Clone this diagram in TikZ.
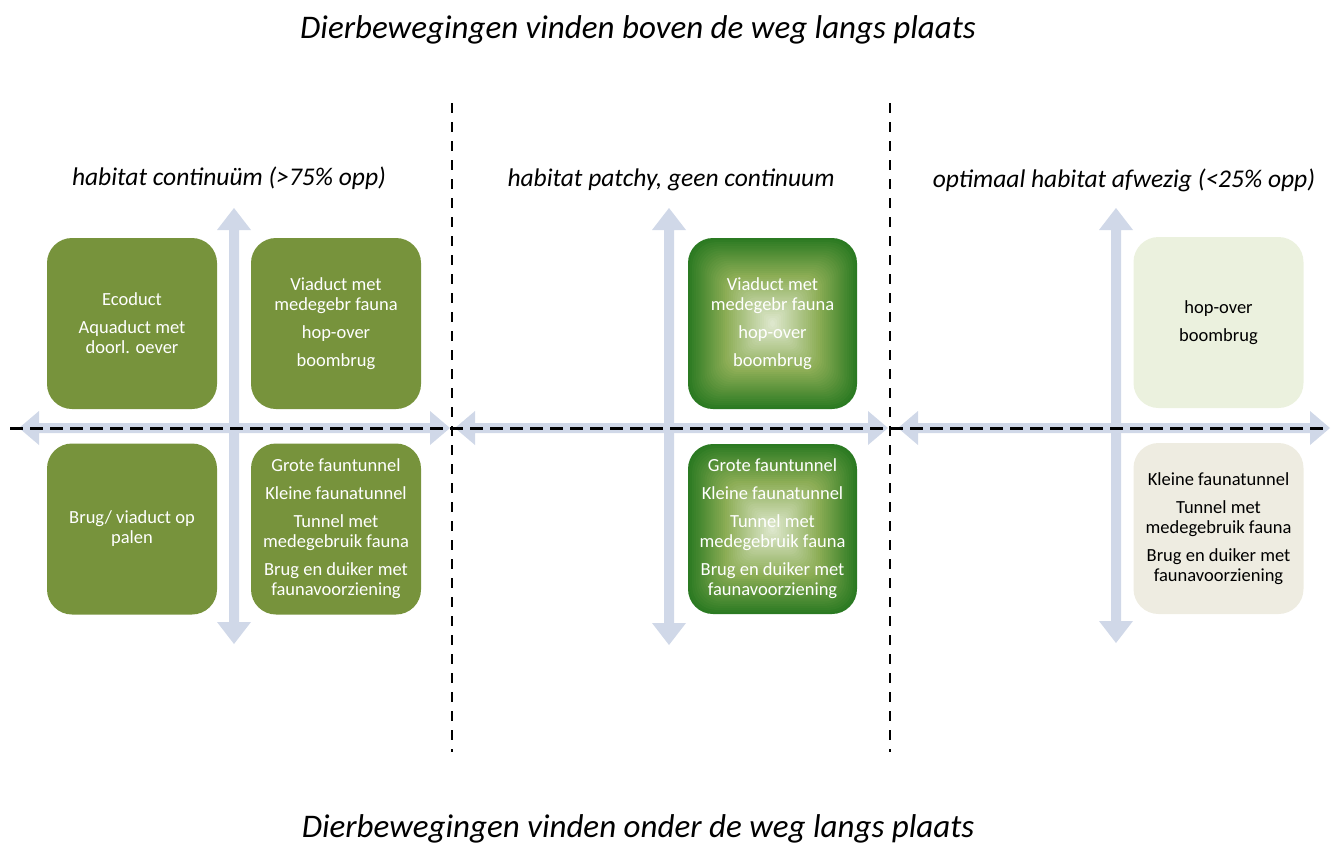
\documentclass[tikz,border=0pt]{standalone}
\usepackage{fontspec}
\setmainfont{Carlito}
\definecolor{olivegreen}{HTML}{77933C}
\definecolor{arrowblue}{HTML}{D0D8E8}
\definecolor{paleA}{HTML}{EBF1DE}
\definecolor{paleB}{HTML}{EEECE1}
\definecolor{rimgreen}{HTML}{2B7A22}
\definecolor{midgreen}{HTML}{8CAD55}
\definecolor{coregreen}{HTML}{DDE7CC}
\newcommand\myharrow[3]{% y, xleft tip, xright tip
  \fill[arrowblue] (#2,#1) -- (#2+20,#1-17) -- (#2+20,#1-5) -- (#3-20,#1-5) -- (#3-20,#1-17) -- (#3,#1)
    -- (#3-20,#1+17) -- (#3-20,#1+5) -- (#2+20,#1+5) -- (#2+20,#1+17) -- cycle;}
\newcommand\myvarrow[3]{% x, ytop tip, ybottom tip
  \fill[arrowblue] (#1,#2) -- (#1+17,#2+22) -- (#1+5,#2+22) -- (#1+5,#3-22) -- (#1+17,#3-22) -- (#1,#3)
    -- (#1-17,#3-22) -- (#1-5,#3-22) -- (#1-5,#2+22) -- (#1-17,#2+22) -- cycle;}
\newcommand\mygradbox[4]{% x1,y1,x2,y2
  \foreach \i in {0,...,40}{
    \pgfmathsetmacro\d{\i*2.05}
    \pgfmathsetmacro\rr{max(25-\d*0.3,3)}
    \ifnum\i<18
      \pgfmathtruncatemacro\p{\i*100/18}
      \colorlet{gcol}{midgreen!\p!rimgreen}
    \else
      \pgfmathtruncatemacro\p{(\i-18)*100/22}
      \colorlet{gcol}{coregreen!\p!midgreen}
    \fi
    \fill[gcol, rounded corners=\rr] (#1+\d,#2+\d) rectangle (#3-\d,#4-\d);
  }}
\tikzset{
  box/.style={rectangle, rounded corners=25pt, minimum width=170pt, minimum height=171pt,
    inner sep=0pt, align=center, font=\fontsize{18.5}{20}\selectfont},
  greenbox/.style={box, fill=olivegreen, text=white},
  gradbox/.style={box, text=white},
  palebox/.style={box, text=black},
  maintitle/.style={font=\fontsize{33}{38}\selectfont\itshape},
  subtitle/.style={font=\fontsize{25.5}{30}\selectfont\itshape},
  hdash/.style={line width=3pt, dash pattern=on 13pt off 7pt},
  vdash/.style={line width=2.8pt, dash pattern=on 10pt off 9pt}
}
\begin{document}
\begin{tikzpicture}[x=1pt,y=-1pt]
\useasboundingbox (0,0) rectangle (1335,844);
% arrows
\myharrow{428}{19}{450}
\myvarrow{234}{208}{644}
\myharrow{428}{455}{888}
\myvarrow{669}{208}{645}
\myharrow{428}{898}{1330}
\myvarrow{1116}{208}{643}
% dashed lines
\coordinate (hl) at (10,428);
\coordinate (hr) at (1330,428);
\coordinate (v1t) at (452,103);
\coordinate (v1b) at (452,752);
\coordinate (v2t) at (890,103);
\coordinate (v2b) at (890,752);
\draw[hdash] (hl) -- (hr);
\draw[vdash] (v1t) -- (v1b);
\draw[vdash] (v2t) -- (v2b);
% titles
\node[maintitle] (top) at (638,30) {Dierbewegingen vinden boven de weg langs plaats};
\node[maintitle] (bot) at (638,829) {Dierbewegingen vinden onder de weg langs plaats};
\node[subtitle] (s1) at (229,178) {habitat continuüm (>75\% opp)};
\node[subtitle] (s2) at (671,180) {habitat patchy, geen continuum};
\node[subtitle] (s3) at (1124,180) {optimaal habitat afwezig (<25\% opp)};
% left panel
\node[greenbox] (b1) at (132,323.5) {Ecoduct\\[8pt]Aquaduct met\\doorl. oever};
\node[greenbox] (b2) at (336,323.5) {Viaduct met\\medegebr fauna\\[8pt]hop-over\\[8pt]boombrug};
\node[greenbox] (b3) at (132,529) {Brug/ viaduct op\\palen};
\node[greenbox] (b4) at (336,529) {Grote fauntunnel\\[8pt]Kleine faunatunnel\\[8pt]Tunnel met\\medegebruik fauna\\[8pt]Brug en duiker met\\faunavoorziening};
% center panel
\mygradbox{688}{238}{857}{409}
\mygradbox{688}{444}{857}{614}
\node[gradbox] (c1) at (772.5,323.5) {Viaduct met\\medegebr fauna\\[8pt]hop-over\\[8pt]boombrug};
\node[gradbox] (c2) at (772.5,529) {Grote fauntunnel\\[8pt]Kleine faunatunnel\\[8pt]Tunnel met\\medegebruik fauna\\[8pt]Brug en duiker met\\faunavoorziening};
% right panel
\node[palebox, fill=paleA] (r1) at (1218.5,322.5) {hop-over\\[8pt]boombrug};
\node[palebox, fill=paleB] (r2) at (1218.5,528.5) {Kleine faunatunnel\\[8pt]Tunnel met\\medegebruik fauna\\[8pt]Brug en duiker met\\faunavoorziening};
\end{tikzpicture}
\end{document}
